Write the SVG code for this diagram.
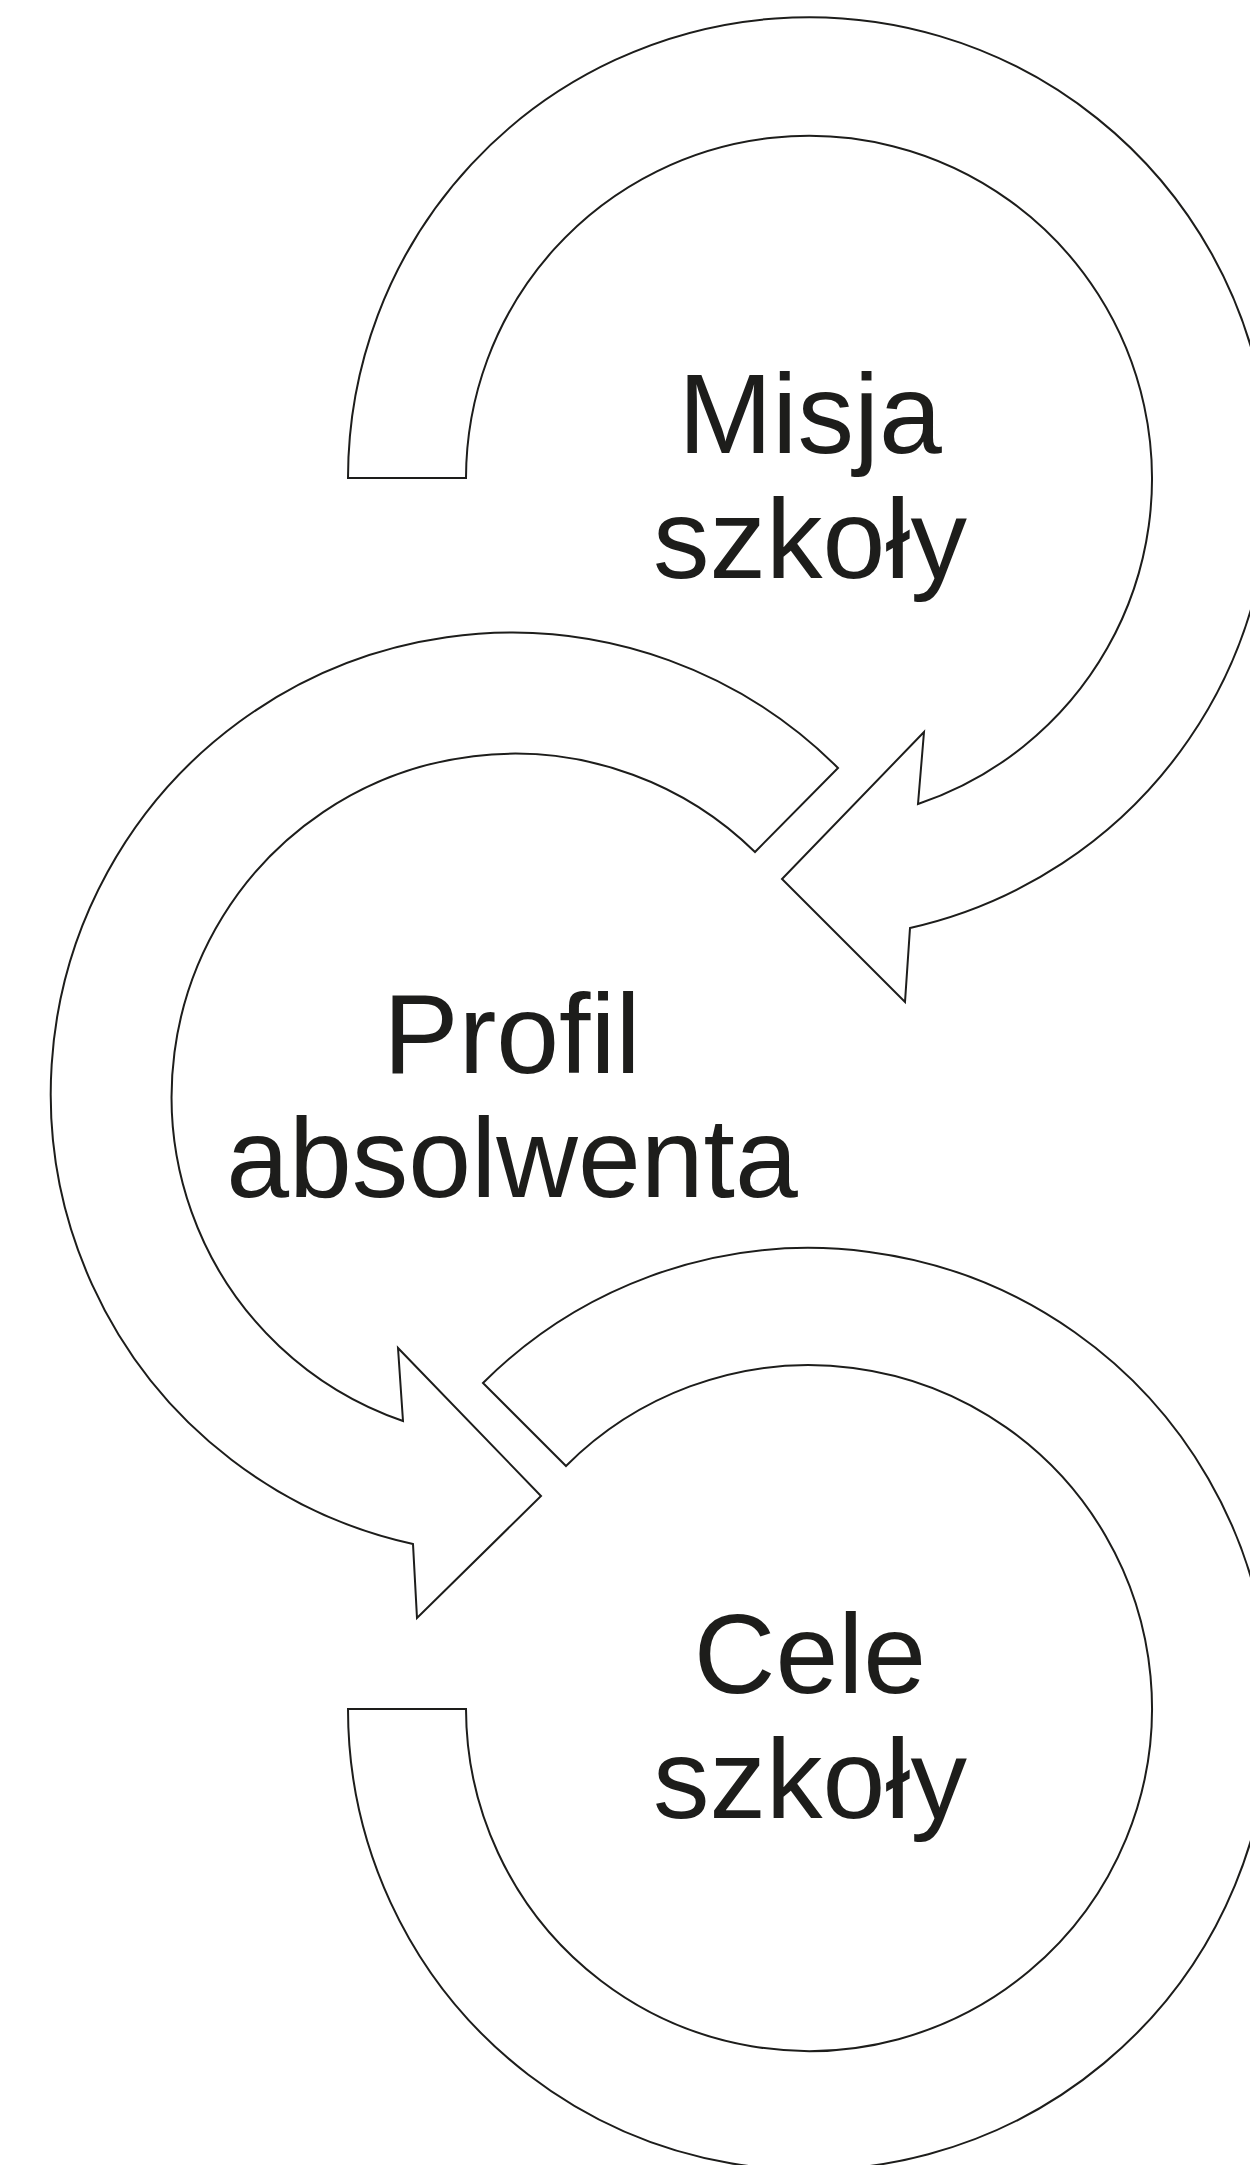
<svg xmlns="http://www.w3.org/2000/svg" width="1250" height="2165" viewBox="0 0 1250 2165">
<style>
.arrow{fill:#ffffff;stroke:#1d1d1b;stroke-width:2;stroke-linejoin:miter}
.lbl{font-family:"Liberation Sans",Arial,sans-serif;font-size:113px;fill:#1d1d1b;text-anchor:middle}
</style>
<rect width="1250" height="2165" fill="#ffffff"/>
<g id="connectors"></g>
<g id="node-misja">
<path class="arrow" d="M 348 478 A 461 461 0 1 1 910 928 L 905 1002 L 782 879 L 924 732 L 918 804 A 343 343 0 1 0 466 478 Z"/>
<text class="lbl" x="810" y="453">Misja</text>
<text class="lbl" x="810" y="578">szkoły</text>
</g>
<g id="node-profil">
<path class="arrow" d="M 838 768 A 461 461 0 1 0 413 1544 L 417 1618 L 541 1496 L 398 1348 L 403 1421 A 343 343 0 1 1 755 852 Z"/>
<text class="lbl" x="512" y="1073">Profil</text>
<text class="lbl" x="512" y="1197">absolwenta</text>
</g>
<g id="node-cele">
<path class="arrow" d="M 483 1383 A 461 461 0 1 1 348 1709 L 466 1709 A 343 343 0 1 0 566 1466 Z"/>
<text class="lbl" x="810" y="1693">Cele</text>
<text class="lbl" x="810" y="1818">szkoły</text>
</g>
</svg>
